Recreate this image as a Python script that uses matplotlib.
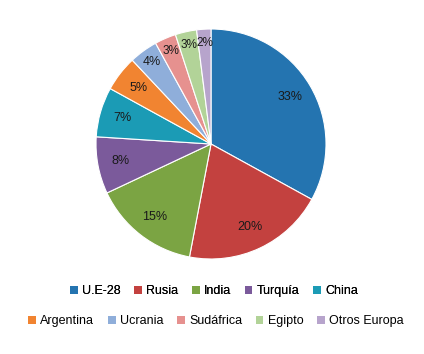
import matplotlib
matplotlib.use("Agg")
import numpy as np
import matplotlib.pyplot as plt
from matplotlib.patches import Patch

labels = ['U.E-28', 'Rusia', 'India', 'Turquía', 'China',
          'Argentina', 'Ucrania', 'Sudáfrica', 'Egipto', 'Otros Europa']
shares = [33, 20, 15, 8, 7, 5, 4, 3, 3, 2]
colors = ['#2474B0', '#C3413F', '#7BA443', '#7B5A9B', '#1B9BB5',
          '#F18431', '#8FAEDA', '#E6918F', '#B2D398', '#B7A4CC']

plt.rcParams['font.family'] = ['Liberation Sans', 'DejaVu Sans']

fig = plt.figure(figsize=(4.24, 3.54), dpi=100)
ax = fig.add_axes([96 / 424, 95 / 354, 230 / 424, 230 / 354])
wedges, texts = ax.pie(shares, colors=colors, startangle=90, counterclock=False,
                       wedgeprops=dict(edgecolor='white', linewidth=0.8))
# percentage labels inside the slices
for w, v in zip(wedges, shares):
    ang = np.deg2rad((w.theta1 + w.theta2) / 2)
    r = 0.8 if v > 4 else 0.88
    fs = 9 if v > 3 else 8.5
    ax.text(r * np.cos(ang), r * np.sin(ang), f'{v}%', ha='center', va='center',
            fontsize=fs, color='#1a1a1a')
ax.set_aspect('equal')
ax.set_xlim(-1, 1)
ax.set_ylim(-1, 1)

handles = [Patch(facecolor=c, edgecolor='none') for c in colors]
leg1 = fig.legend(handles[:5], labels[:5], ncol=5, loc='center',
                  bbox_to_anchor=(214 / 424, 1 - 291 / 354), frameon=False,
                  fontsize=9, handlelength=0.6, handleheight=0.6,
                  handletextpad=0.35, columnspacing=1.1)
fig.add_artist(leg1)
fig.legend(handles[5:], labels[5:], ncol=5, loc='center',
           bbox_to_anchor=(216 / 424, 1 - 321 / 354), frameon=False,
           fontsize=9, handlelength=0.6, handleheight=0.6,
           handletextpad=0.35, columnspacing=1.1)

fig.savefig('out.png', dpi=100)
